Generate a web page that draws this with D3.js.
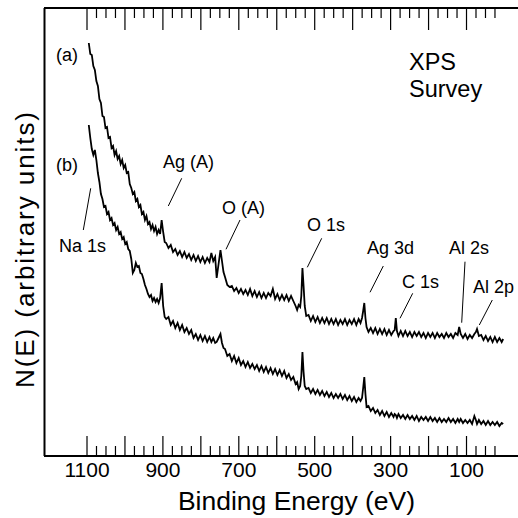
<!DOCTYPE html>
<html><head><meta charset="utf-8">
<script src="https://cdn.jsdelivr.net/npm/d3@7/dist/d3.min.js"></script>
<style>html,body{margin:0;padding:0;background:#fff}</style>
</head><body>
<svg id="chart" width="518" height="518"></svg>
<script>
// ---- data (binding energy in eV, N(E) in arbitrary units) ----
const energy = [
1094,1090,1086,1082,1078,1074,1070,1066,1062,1058,1054,1050,1046,1042,1038,1034,1030,1026,1022,1018,
1014,1010,1006,1002,998,994,990,986,982,978,974,970,966,962,958,954,950,946,942,938,
934,930,926,922,918,914,910,906,902,898,894,
890,884,878,872,866,860,854,848,842,836,830,824,818,812,806,800,794,788,782,776,
771,766,761,757,752,747,743,739,735,729,723,717,711,705,699,693,687,681,675,669,
663,657,651,645,639,633,627,621,615,609,603,597,591,585,579,573,567,561,555,549,
545,541,537,534,531,528,525,521,515,509,503,497,491,485,479,473,467,461,455,449,
443,437,431,425,419,413,407,401,395,389,383,378,374,371,368,365,362,357,351,345,
339,333,327,321,315,309,303,297,291,288,285,282,278,272,266,260,254,248,242,236,
230,224,218,212,206,200,194,188,182,176,170,164,158,152,146,140,134,128,122,118,
114,108,102,96,90,84,78,74,71,66,60,54,48,42,36,30,24,18,12,6,2
];
const seriesA = [
413,402,401,390,386,375,370,357,353,340,339,328,329,318,319,308,310,301,305,297,
300,292,296,288,291,283,284,272,268,262,264,255,257,249,251,242,244,236,240,232,
234,227,231,225,229,222,226,222,236,224,214,
213,208,211,204,207,201,205,199,204,198,202,196,201,195,200,194,199,193,198,194,
203,195,199,178,192,206,195,184,179,171,169,170,165,168,163,167,162,166,161,167,
160,165,159,164,158,163,158,163,160,167,157,162,156,161,156,161,155,160,155,150,
146,151,149,160,188,170,150,140,141,135,140,134,139,133,138,133,138,132,137,132,
137,131,136,132,137,131,136,132,137,131,137,133,138,145,153,138,129,124,128,123,
128,122,127,122,127,121,126,121,125,126,138,125,120,125,120,125,120,124,119,124,
120,124,119,123,118,123,119,123,118,123,119,122,118,123,119,122,118,123,121,129,
122,118,122,117,121,118,122,124,127,120,121,116,120,115,119,114,119,114,118,114,117
];
const seriesB = [
331,318,307,301,306,296,283,274,262,257,249,250,242,244,236,238,231,233,226,229,
222,224,217,219,212,214,207,205,197,183,186,193,189,190,183,182,177,171,167,162,
159,161,155,158,154,157,153,158,173,150,139,
137,139,131,135,128,133,126,131,124,128,122,126,118,122,116,121,115,120,114,119,
114,118,113,114,118,122,113,108,107,100,102,95,100,93,98,91,95,89,94,88,
92,87,91,85,90,84,89,83,88,82,87,81,86,80,85,78,82,76,79,72,
74,67,70,80,104,84,70,67,68,63,67,62,66,61,65,60,64,59,63,58,
62,58,62,57,61,56,60,55,59,54,58,55,58,68,79,62,49,50,45,48,
43,46,41,45,40,44,39,43,39,42,41,38,42,38,41,37,41,37,40,36,
40,35,39,36,39,35,39,35,38,34,38,34,37,34,38,34,37,33,37,34,
37,33,36,33,36,32,40,36,32,36,32,35,31,35,31,34,31,34,30,33,32
];
const majorTicks = [1100,1000,900,800,700,600,500,400,300,200,100];
const tickLabels = ["1100","900","700","500","300","100"];
const curveNames = ["(a)","(b)"];
const peakNames = ["Na 1s","Ag (A)","O (A)","O 1s","Ag 3d","C 1s","Al 2s","Al 2p"];
const titleLines = ["XPS","Survey"];

// ---- layout ----
const FONT = "'Liberation Sans', Arial, Helvetica, sans-serif";
const svg = d3.select("#chart");
const x = d3.scaleLinear().domain([1212, -37]).range([44, 518]);
const y = d3.scaleLinear().domain([0, 448]).range([456, 8]);
const minorTicks = d3.range(1100, 0, -25).filter(v => v % 100 !== 0);

// bottom axis (ticks pointing inward / up)
const gB = svg.append("g").attr("transform", "translate(0,456)");
gB.call(d3.axisBottom(x).tickValues(majorTicks).tickSize(-20).tickPadding(6)
  .tickFormat(d => tickLabels.includes(String(d)) ? String(d) : ""));
gB.append("g").call(d3.axisBottom(x).tickValues(minorTicks).tickSize(-10).tickFormat(""));
// top axis (ticks pointing down)
const gT = svg.append("g").attr("transform", "translate(0,8)");
gT.call(d3.axisTop(x).tickValues(majorTicks).tickSize(-22).tickFormat(""));
gT.append("g").call(d3.axisTop(x).tickValues(minorTicks).tickSize(-10).tickFormat(""));

svg.selectAll(".domain").remove();
svg.selectAll(".tick line").attr("stroke", "#000").attr("stroke-width", 1.2);
gB.selectAll(".tick text").attr("font-family", FONT).attr("font-size", 21).attr("fill", "#000");

// axis frame lines
svg.append("line").attr("x1", x.range()[0]).attr("x2", x.range()[1]).attr("y1", y(0)).attr("y2", y(0))
  .attr("stroke", "#000").attr("stroke-width", 2.2);
svg.append("line").attr("x1", x.range()[0]).attr("x2", x.range()[1]).attr("y1", y.range()[1]).attr("y2", y.range()[1])
  .attr("stroke", "#000").attr("stroke-width", 2.2);
svg.append("line").attr("x1", 44.5).attr("x2", 44.5).attr("y1", y.range()[1]).attr("y2", y(0))
  .attr("stroke", "#000").attr("stroke-width", 2);

// spectra
const line = d3.line().x((d, i) => x(energy[i])).y(d => y(d));
[seriesA, seriesB].forEach(s => {
  svg.append("path").datum(s).attr("d", line).attr("fill", "none")
    .attr("stroke", "#000").attr("stroke-width", 1.8).attr("stroke-linejoin", "miter");
});

// axis titles
svg.append("text").attr("x", 296.5).attr("y", 510).attr("text-anchor", "middle")
  .attr("font-family", FONT).attr("font-size", 26.5).text("Binding Energy (eV)");
svg.append("text").attr("transform", "translate(34,250) rotate(-90)").attr("text-anchor", "middle")
  .attr("font-family", FONT).attr("font-size", 26).attr("textLength", 276).attr("lengthAdjust", "spacing")
  .text("N(E) (arbitrary units)");

// title (two lines)
const titleBase = [70, 96.5];
titleLines.forEach((t, i) => svg.append("text").attr("x", 409).attr("y", titleBase[i])
  .attr("font-family", FONT).attr("font-size", 23.5).text(t));

// curve labels
const curvePos = [[56, 61], [56, 171]];
curveNames.forEach((t, i) => svg.append("text").attr("x", curvePos[i][0]).attr("y", curvePos[i][1])
  .attr("font-family", FONT).attr("font-size", 18).text(t));

// peak annotations: text position + leader line
const peakLayout = [
  {tx: 59, ty: 252, l: [90.7, 188.3, 83.3, 230]},
  {tx: 163, ty: 167.5, l: [181.7, 178.3, 168.3, 206]},
  {tx: 222, ty: 213.5, l: [240, 220, 226, 249.3]},
  {tx: 307, ty: 231, l: [321.7, 238.3, 307.3, 267.3]},
  {tx: 367, ty: 253.5, l: [383.3, 266, 370, 292.3]},
  {tx: 402, ty: 287.5, l: [412.7, 293.3, 400, 318.3]},
  {tx: 449, ty: 254, l: [465, 261.7, 461.7, 322.7]},
  {tx: 473, ty: 293, l: [492.3, 300, 479.3, 325]}
];
peakNames.forEach((t, i) => {
  const p = peakLayout[i];
  svg.append("text").attr("x", p.tx).attr("y", p.ty).attr("font-family", FONT)
    .attr("font-size", 18).text(t);
  svg.append("line").attr("x1", p.l[0]).attr("y1", p.l[1]).attr("x2", p.l[2]).attr("y2", p.l[3])
    .attr("stroke", "#000").attr("stroke-width", 1);
});
</script>
</body></html>
